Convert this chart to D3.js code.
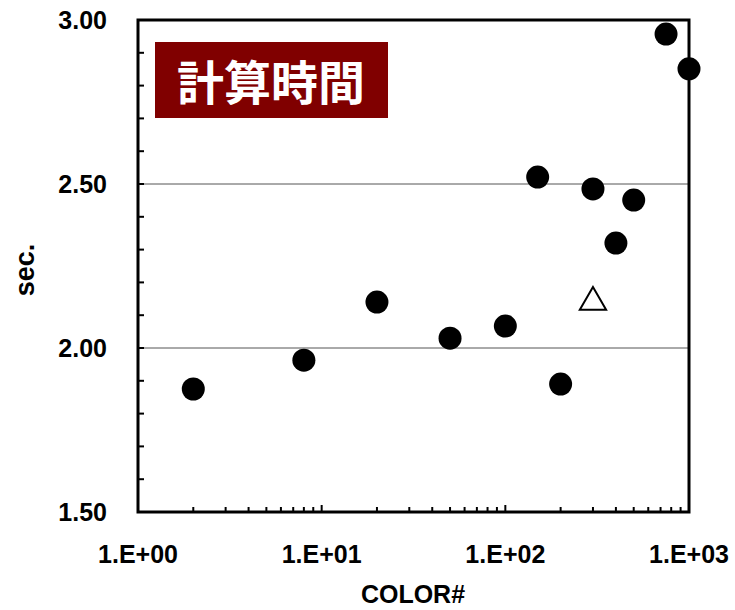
<!DOCTYPE html>
<html>
<head>
<meta charset="utf-8">
<script src="https://cdn.jsdelivr.net/npm/d3@7"></script>
<style>
  body { margin: 0; background: #fff; }
  text { font-family: "Liberation Sans", Arial, sans-serif; font-weight: bold; }
</style>
</head>
<body>
<svg id="chart"></svg>
<script>
// colour count vs. time (sec.)
const colorCounts = [2, 8, 20, 50, 100, 150, 200, 300, 400, 500, 750, 1000];
const seconds = [1.875, 1.963, 2.140, 2.030, 2.067, 2.521, 1.890, 2.485, 2.320, 2.451, 2.957, 2.851];
const triangleX = [300];
const triangleY = [2.14];
const yTicks = [1.5, 2.0, 2.5, 3.0];
const xTicks = [1, 10, 100, 1000];
const xTickLabels = ["1.E+00", "1.E+01", "1.E+02", "1.E+03"];
const gridValues = [2.0, 2.5];
const title = "計算時間";

const width = 735, height = 610;
const margin = {top: 20, right: 46, bottom: 98, left: 138};

const svg = d3.select('#chart')
    .attr('width', width)
    .attr('height', height);

const w = width - margin.left - margin.right;
const h = height - margin.top - margin.bottom;

const xScale = d3.scaleLog().domain([1, 1000]).range([0, w]);
const yScale = d3.scaleLinear().domain([1.5, 3.0]).range([h, 0]);

const chart = svg.append('g')
    .attr('transform', `translate(${margin.left},${margin.top})`);

// gridlines
chart.selectAll('.grid')
    .data(gridValues)
  .join('line')
    .attr('x1', 0).attr('x2', w)
    .attr('y1', d => yScale(d)).attr('y2', d => yScale(d))
    .attr('stroke', '#555').attr('stroke-width', 1);

// minor y ticks (inside)
const yMinor = d3.range(15, 31).map(d => d / 10);
chart.selectAll('.ytick')
    .data(yMinor)
  .join('line')
    .attr('x1', 0).attr('x2', 6)
    .attr('y1', d => yScale(d)).attr('y2', d => yScale(d))
    .attr('stroke', '#000').attr('stroke-width', 2);

// minor x ticks (inside)
const xMinor = [];
[1, 10, 100].forEach(dec => { for (let i = 2; i <= 10; i++) xMinor.push(dec * i); });
chart.selectAll('.xtick')
    .data(xMinor)
  .join('line')
    .attr('x1', d => xScale(d)).attr('x2', d => xScale(d))
    .attr('y1', h).attr('y2', d => (Math.log10(d) % 1 === 0) ? h - 7 : h - 5)
    .attr('stroke', '#000').attr('stroke-width', 2);

// frame
chart.append('rect')
    .attr('x', 0).attr('y', 0).attr('width', w).attr('height', h)
    .attr('fill', 'none').attr('stroke', '#000').attr('stroke-width', 3);

// y tick labels
chart.selectAll('.ylab')
    .data(yTicks)
  .join('text')
    .attr('x', -31)
    .attr('y', d => yScale(d))
    .attr('dy', '0.36em')
    .attr('text-anchor', 'end')
    .attr('font-size', 25)
    .text(d => d.toFixed(2));

// x tick labels
chart.selectAll('.xlab')
    .data(xTicks)
  .join('text')
    .attr('x', d => xScale(d))
    .attr('y', 563 - margin.top)
    .attr('text-anchor', 'middle')
    .attr('font-size', 25)
    .text((d, i) => xTickLabels[i]);

// axis titles
svg.append('text')
    .attr('x', 413)
    .attr('y', 603)
    .attr('text-anchor', 'middle')
    .attr('font-size', 25)
    .text('COLOR#');

svg.append('text')
    .attr('transform', 'translate(34,270) rotate(-90)')
    .attr('text-anchor', 'middle')
    .attr('font-size', 27)
    .text('sec.');

// title box
const tb = chart.append('g').attr('transform', 'translate(17,22)');
tb.append('rect')
    .attr('width', 233).attr('height', 76)
    .attr('fill', '#800000');
tb.append('text')
    .attr('x', 116).attr('y', 41)
    .attr('dy', '0.36em')
    .attr('text-anchor', 'middle')
    .attr('fill', '#fff')
    .attr('font-size', 47)
    .style('font-family', '"Noto Sans CJK JP", sans-serif')
    .text(title);

// points
chart.selectAll('.pt')
    .data(colorCounts)
  .join('circle')
    .attr('cx', d => xScale(d))
    .attr('cy', (d, i) => yScale(seconds[i]))
    .attr('r', 11.5)
    .attr('fill', '#000');

const tri = d3.symbol().type(d3.symbolTriangle).size(300);
chart.selectAll('.tri')
    .data(triangleX)
  .join('path')
    .attr('d', tri)
    .attr('transform', (d, i) => `translate(${xScale(d)},${yScale(triangleY[i])})`)
    .attr('fill', '#fff')
    .attr('stroke', '#000')
    .attr('stroke-width', 2);
</script>
</body>
</html>
